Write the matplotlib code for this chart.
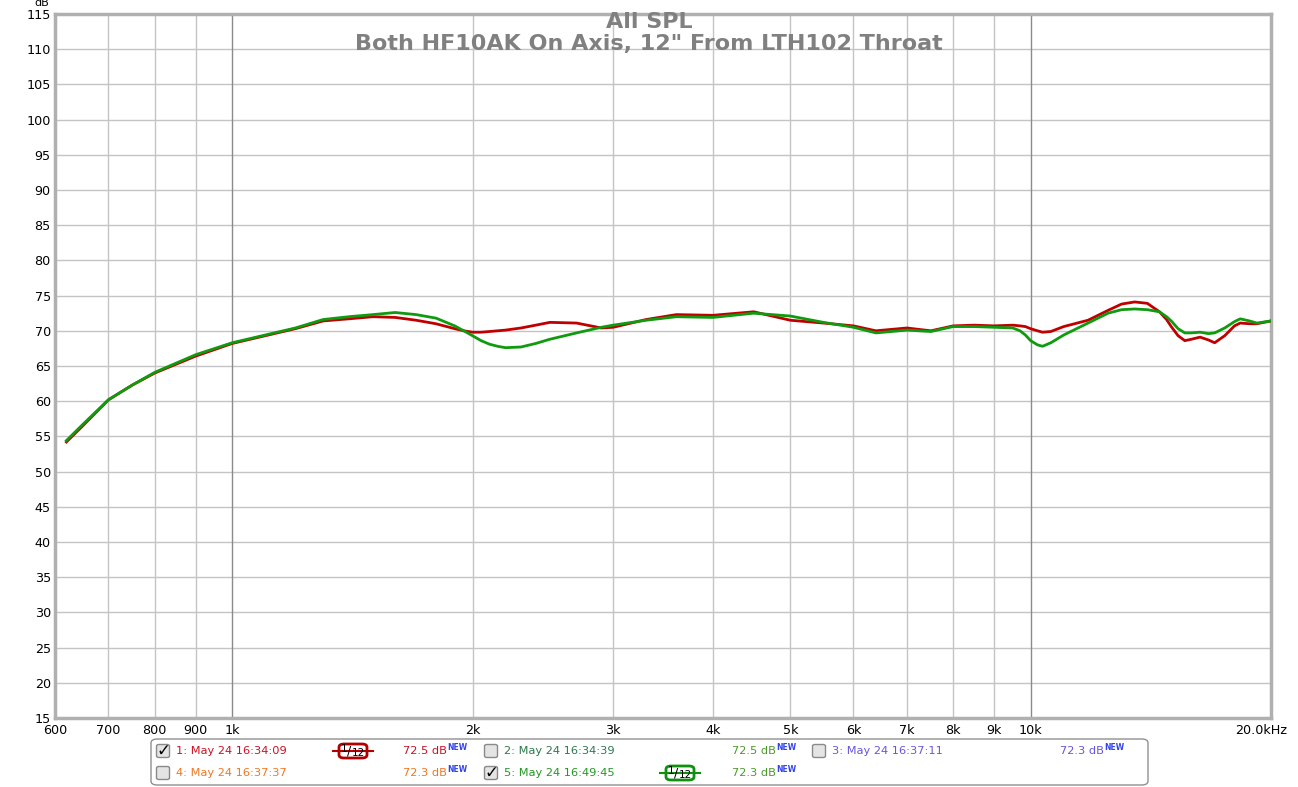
import matplotlib
matplotlib.use("Agg")
import matplotlib.pyplot as plt
from matplotlib.patches import FancyBboxPatch
import matplotlib.transforms as mtransforms

W, H = 1298, 787

# ---------------- data ----------------
freq_hz = [620, 650, 700, 750, 800, 900, 1000, 1100, 1200, 1300, 1400, 1500, 1600,
           1700, 1800, 1900, 1950, 2000, 2050, 2100, 2150, 2200, 2300, 2400, 2500,
           2700, 2900, 3000, 3300, 3600, 4000, 4500, 5000, 5500, 6000, 6400, 7000,
           7500, 8000, 8500, 9000, 9500, 9700, 9850, 10000, 10200, 10350, 10600,
           11000, 11800, 12500, 13000, 13500, 14000, 14500, 14800, 15000, 15300,
           15600, 15900, 16300, 16700, 17000, 17500, 18000, 18300, 18800, 19200, 20000]
spl_1 = [54.2, 56.5, 60.2, 62.3, 64.0, 66.4, 68.2, 69.3, 70.3, 71.4, 71.7, 72.0, 71.9,
         71.5, 71.0, 70.3, 70.0, 69.8, 69.8, 69.9, 70.0, 70.1, 70.4, 70.8, 71.2,
         71.1, 70.4, 70.5, 71.6, 72.3, 72.2, 72.7, 71.5, 71.1, 70.7, 70.0, 70.4,
         70.0, 70.7, 70.8, 70.7, 70.8, 70.7, 70.6, 70.3, 70.0, 69.8, 69.9,
         70.6, 71.5, 72.9, 73.8, 74.1, 73.9, 72.7, 71.6, 70.6, 69.3,
         68.6, 68.8, 69.1, 68.7, 68.3, 69.3, 70.7, 71.1, 71.0, 71.0, 71.4]
spl_5 = [54.4, 56.7, 60.2, 62.3, 64.1, 66.6, 68.3, 69.4, 70.4, 71.6, 72.0, 72.3, 72.6,
         72.3, 71.8, 70.7, 70.0, 69.3, 68.6, 68.1, 67.8, 67.6, 67.7, 68.2, 68.8,
         69.7, 70.5, 70.8, 71.5, 72.0, 71.9, 72.5, 72.1, 71.2, 70.5, 69.7, 70.1,
         69.9, 70.6, 70.6, 70.5, 70.4, 70.0, 69.4, 68.6, 68.0, 67.8, 68.3,
         69.4, 71.1, 72.5, 73.0, 73.1, 73.0, 72.7, 72.0, 71.4, 70.3,
         69.7, 69.7, 69.8, 69.6, 69.7, 70.4, 71.3, 71.7, 71.4, 71.1, 71.4]

x_ticks = [600, 700, 800, 900, 1000, 2000, 3000, 4000, 5000, 6000, 7000, 8000, 9000, 10000, 20000]
x_labels = ["600", "700", "800", "900", "1k", "2k", "3k", "4k", "5k", "6k", "7k", "8k", "9k", "10k", "20.0kHz"]
y_ticks = list(range(15, 116, 5))

title_1 = "All SPL"
title_2 = "Both HF10AK On Axis, 12\" From LTH102 Throat"

legend_rows = [
    # (checkbox x, checked, label, label colour, badge x or None, badge colour, level, level colour, level x)
    [(163, True, "1: May 24 16:34:09", "#cc1122", 353, "#b00000", "72.5 dB", "#cc1122", 403),
     (491, False, "2: May 24 16:34:39", "#2a7a4a", None, None, "72.5 dB", "#4a9a2a", 732),
     (819, False, "3: May 24 16:37:11", "#6655dd", None, None, "72.3 dB", "#6655dd", 1060)],
    [(163, False, "4: May 24 16:37:37", "#ee7722", None, None, "72.3 dB", "#ee7722", 403),
     (491, True, "5: May 24 16:49:45", "#229922", 680, "#109010", "72.3 dB", "#4a9a2a", 732)],
]

# ---------------- figure ----------------
fig = plt.figure(figsize=(W / 100, H / 100), dpi=100)
fig.patch.set_facecolor("white")

def fx(px):
    return px / W

def fy(py):
    return 1 - py / H

ax_l, ax_r, ax_t, ax_b = 55, 1271, 14, 718
ax = fig.add_axes([fx(ax_l), fy(ax_b), fx(ax_r - ax_l), (ax_b - ax_t) / H])
ax.set_xscale("log")
ax.set_xlim(600, 20000)
ax.set_ylim(15, 115)

ax.plot(freq_hz, spl_1, color="#c00000", lw=2.0, zorder=3, solid_joinstyle="round")
ax.plot(freq_hz, spl_5, color="#109a10", lw=2.0, zorder=4, solid_joinstyle="round")

ax.set_xticks(x_ticks)
ax.set_xticklabels(x_labels)
ax.xaxis.set_minor_locator(matplotlib.ticker.NullLocator())
ax.set_yticks(y_ticks)
ax.set_yticklabels([str(v) for v in y_ticks])
ax.tick_params(axis="both", length=0, labelsize=9.2, colors="black")
ax.tick_params(axis="x", pad=4)
ax.tick_params(axis="y", pad=3)
last = ax.get_xticklabels()[-1]
last.set_transform(last.get_transform() + mtransforms.ScaledTranslation(-10 / 100, 0, fig.dpi_scale_trans))

for v in y_ticks:
    ax.axhline(v, color="#c4c4c4", lw=1.0, zorder=1)
for f in x_ticks:
    c = "#8a8a8a" if f in (1000, 10000) else "#c4c4c4"
    ax.axvline(f, color=c, lw=1.0, zorder=1)

for s in ax.spines.values():
    s.set_color("#b0b0b0")
    s.set_linewidth(2.5)

fig.text(fx(42), fy(3), "dB", fontsize=8, ha="center", va="center")

ax.text(0.5, fy(22), title_1, transform=fig.transFigure, ha="center", va="center",
        fontsize=16, fontweight="bold", color="#808080", zorder=5)
ax.text(0.5, fy(44), title_2, transform=fig.transFigure, ha="center", va="center",
        fontsize=16, fontweight="bold", color="#808080", zorder=5)

# ---------------- legend box ----------------
box = FancyBboxPatch((fx(151), fy(785)), fx(1148 - 151), (785 - 739) / H,
                     boxstyle="round,pad=0,rounding_size=0.005",
                     transform=fig.transFigure, facecolor="white",
                     edgecolor="#909090", lw=1.0)
fig.patches.append(box)

row_y = [751, 773]
for r, row in enumerate(legend_rows):
    yy = row_y[r]
    for (cbx, checked, label, lcol, bx, bcol, level, levcol, levx) in row:
        cb = FancyBboxPatch((fx(cbx - 6.5), fy(yy + 6.5)), fx(13), 13 / H,
                            boxstyle="round,pad=0,rounding_size=0.002",
                            transform=fig.transFigure, facecolor="#e4e4e4",
                            edgecolor="#8a8a8a", lw=1.0)
        fig.patches.append(cb)
        if checked:
            fig.text(fx(cbx), fy(yy), "\u2713", fontsize=12, ha="center", va="center",
                     color="black", fontweight="bold")
        fig.text(fx(cbx + 13), fy(yy), label, fontsize=8.2, ha="left", va="center", color=lcol)
        if bx is not None:
            fig.add_artist(plt.Line2D([fx(bx - 20), fx(bx + 20)], [fy(yy), fy(yy)],
                                      transform=fig.transFigure, color=bcol, lw=1.5))
            bb = FancyBboxPatch((fx(bx - 14), fy(yy + 7)), fx(28), 14 / H,
                                boxstyle="round,pad=0,rounding_size=0.004",
                                transform=fig.transFigure, facecolor="white",
                                edgecolor=bcol, lw=2.0)
            fig.patches.append(bb)
            fig.text(fx(bx - 9), fy(yy - 2), "1", fontsize=7.5, ha="center", va="center")
            fig.text(fx(bx - 4), fy(yy), "/", fontsize=9, ha="center", va="center")
            fig.text(fx(bx + 5), fy(yy + 2.5), "12", fontsize=7.5, ha="center", va="center")
        fig.text(fx(levx), fy(yy), level, fontsize=8.2, ha="left", va="center", color=levcol)
        fig.text(fx(levx + 44), fy(yy - 4), "NEW", fontsize=5.5, ha="left", va="center",
                 color="#3344ee", fontweight="bold")

fig.savefig("out.png", dpi=100, facecolor="white")
